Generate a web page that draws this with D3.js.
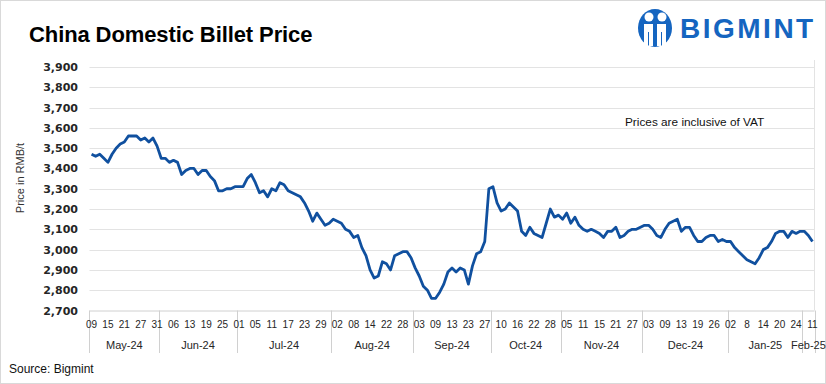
<!DOCTYPE html>
<html>
<head>
<meta charset="utf-8">
<script src="https://cdn.jsdelivr.net/npm/d3@7"></script>
<style>
  body { margin: 0; background: #fff; }
  svg { display: block; font-family: "Liberation Sans", Arial, sans-serif; }
</style>
</head>
<body>
<svg id="chart"></svg>
<script>
const TITLE = "China Domestic Billet Price";
const NOTE = "Prices are inclusive of VAT";
const SOURCE = "Source: Bigmint";

// one label every 4th point
const dayLabels = ["09","15","21","27","31","06","13","19","25","01","05","11","17","23","29",
  "02","08","14","22","28","03","09","13","23","27","10","16","22","28","05","11","15","21","27",
  "03","09","13","19","26","02","8","14","20","24","11"];
const months = ["May-24","Jun-24","Jul-24","Aug-24","Sep-24","Oct-24","Nov-24","Dec-24","Jan-25","Feb-25"];
const monthCounts = [17, 19, 23, 20, 19, 17, 20, 21, 18, 3];

const prices = [
  3470,3460,3470,3450,3430,3470,3500,3520,3530,3560,3560,3560,3540,3550,3530,3550,3510,
  3450,3450,3430,3440,3430,3370,3390,3400,3400,3370,3390,3390,3360,3340,3290,3290,3300,3300,3310,
  3310,3310,3350,3370,3330,3280,3290,3260,3300,3290,3330,3320,3290,3280,3270,3260,3230,3190,3140,3180,3150,3120,3130,
  3150,3140,3130,3100,3090,3060,3070,3010,2970,2900,2860,2870,2940,2930,2900,2970,2980,2990,2990,2960,
  2910,2870,2820,2800,2760,2760,2790,2830,2890,2910,2890,2910,2900,2830,2920,2980,2990,3040,3300,
  3310,3230,3190,3200,3230,3210,3190,3090,3070,3110,3080,3070,3060,3130,3200,3160,3170,
  3150,3180,3130,3160,3120,3100,3090,3100,3090,3080,3060,3090,3090,3110,3060,3070,3090,3100,3100,3110,
  3120,3120,3100,3070,3060,3100,3130,3140,3150,3090,3110,3110,3070,3040,3040,3060,3070,3070,3040,3050,3040,
  3040,3010,2990,2970,2950,2940,2930,2960,3000,3010,3040,3080,3090,3090,3060,3090,3080,3090,
  3090,3070,3040
];

const yTicks = d3.range(2700, 3901, 100);

const width = 826, height = 384;
const plot = { left: 89.5, right: 814.5, top: 67, bottom: 310.5 };

const svg = d3.select("#chart")
    .attr("width", width)
    .attr("height", height);

svg.append("rect")
    .attr("x", 0.5).attr("y", 0.5)
    .attr("width", width - 1).attr("height", height - 1)
    .attr("fill", "#fff")
    .attr("stroke", "#d9d9d9");

const x = d3.scaleBand()
    .domain(d3.range(prices.length))
    .range([plot.left, plot.right]);
const y = d3.scaleLinear()
    .domain([2700, 3900])
    .range([plot.bottom, plot.top]);

// gridlines + y labels
svg.append("g")
    .selectAll("line")
    .data(yTicks.slice(1))
    .join("line")
    .attr("x1", plot.left).attr("x2", plot.right)
    .attr("y1", d => Math.round(y(d)) + 0.5)
    .attr("y2", d => Math.round(y(d)) + 0.5)
    .attr("stroke", "#e3e3e3");

svg.append("g")
    .selectAll("text")
    .data(yTicks)
    .join("text")
    .attr("x", 78)
    .attr("y", d => y(d) + 4)
    .attr("text-anchor", "end")
    .style("font", "bold 11px 'DejaVu Sans'")
    .attr("fill", "#262626")
    .text(d3.format(","));

svg.append("text")
    .attr("transform", "translate(24,178) rotate(-90)")
    .attr("text-anchor", "middle")
    .style("font-size", "11px")
    .attr("fill", "#333")
    .text("Price in RMB/t");

// x axis: two-level category box
const axisG = svg.append("g").attr("stroke", "#d0d0d0");
axisG.append("line")
    .attr("x1", plot.left).attr("x2", plot.right)
    .attr("y1", plot.bottom + 0.5).attr("y2", plot.bottom + 0.5);

axisG.append("line")
    .attr("x1", 814.5).attr("x2", 814.5)
    .attr("y1", 60).attr("y2", plot.bottom)
    .attr("stroke", "#e3e3e3");

const monthStarts = monthCounts.map((c, i) => d3.sum(monthCounts.slice(0, i)));
const bounds = monthStarts.concat([prices.length]);

axisG.selectAll(".sep")
    .data(bounds)
    .join("line")
    .attr("class", "sep")
    .attr("x1", d => Math.round(x(d) ?? plot.right) + 0.5)
    .attr("x2", d => Math.round(x(d) ?? plot.right) + 0.5)
    .attr("y1", plot.bottom)
    .attr("y2", 353);

svg.append("g")
    .selectAll("text")
    .data(dayLabels)
    .join("text")
    .attr("x", (d, i) => x(i * 4) + x.bandwidth() / 2)
    .attr("y", 328)
    .attr("text-anchor", "middle")
    .style("font-size", "10px")
    .attr("fill", "#262626")
    .text(d => d);

svg.append("g")
    .selectAll("text")
    .data(months)
    .join("text")
    .attr("x", (d, i) => (x(monthStarts[i]) + (x(bounds[i + 1]) ?? plot.right)) / 2)
    .attr("y", 349)
    .attr("text-anchor", "middle")
    .style("font-size", "11px")
    .attr("fill", "#262626")
    .text(d => d);

// price line
const line = d3.line()
    .x((d, i) => x(i) + x.bandwidth() / 2)
    .y(d => y(d));

svg.append("path")
    .datum(prices)
    .attr("d", line)
    .attr("fill", "none")
    .attr("stroke", "#10509f")
    .attr("stroke-width", 2.8)
    .attr("stroke-linejoin", "round");

// texts
svg.append("text")
    .attr("x", 29).attr("y", 42)
    .style("font", "bold 22px 'Liberation Sans'")
    .style("letter-spacing", "-0.1px")
    .attr("fill", "#000")
    .text(TITLE);

svg.append("text")
    .attr("x", 625).attr("y", 126)
    .style("font-size", "11.8px")
    .attr("fill", "#111")
    .text(NOTE);

svg.append("text")
    .attr("x", 9).attr("y", 373)
    .style("font-size", "12px")
    .attr("fill", "#111")
    .text(SOURCE);

// logo
const logo = svg.append("g").attr("fill", "#1565c0");
logo.append("ellipse").attr("cx", 655).attr("cy", 28).attr("rx", 17).attr("ry", 19);
logo.append("circle").attr("cx", 649).attr("cy", 17).attr("r", 4.5).attr("fill", "#fff");
logo.append("circle").attr("cx", 662).attr("cy", 17).attr("r", 4.5).attr("fill", "#fff");
logo.append("path")
    .attr("d", "M644,24 h9 v22 h-4 v-14 h-1 v14 h-4 z M657,24 h9 v22 h-4 v-14 h-1 v14 h-4 z")
    .attr("fill", "#fff");
logo.append("text")
    .attr("x", 680).attr("y", 38)
    .style("font", "bold 28px 'Liberation Sans'")
    .style("letter-spacing", "2.5px")
    .text("BIGMINT");
</script>
</body>
</html>
